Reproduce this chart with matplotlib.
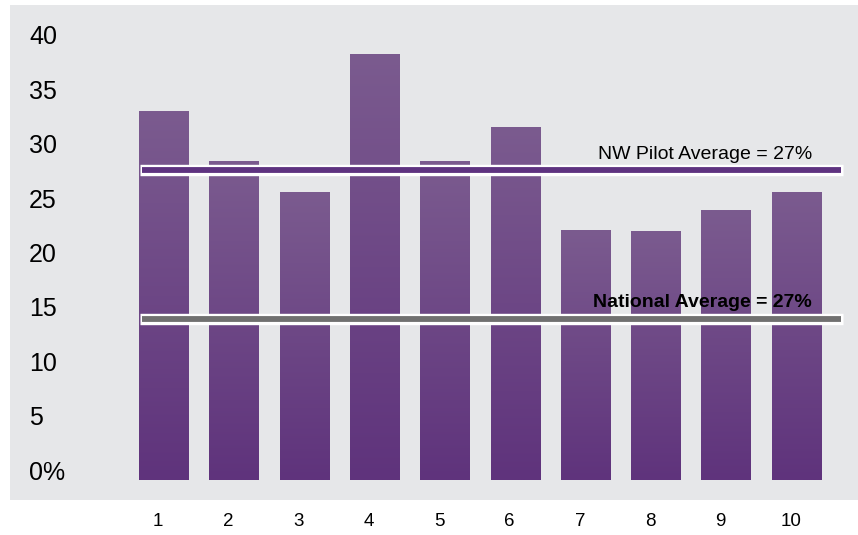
import numpy as np
import matplotlib
matplotlib.use("Agg")
import matplotlib.pyplot as plt
from matplotlib.colors import LinearSegmentedColormap
from matplotlib.patches import Rectangle
from matplotlib.transforms import ScaledTranslation

plt.rcParams['font.family'] = ['Liberation Sans', 'DejaVu Sans']

# data
groups = [1, 2, 3, 4, 5, 6, 7, 8, 9, 10]
values = [33.9, 29.3, 26.5, 39.2, 29.3, 32.5, 23.0, 22.9, 24.8, 26.5]
nw_avg = 28.5
national_avg = 14.8
nw_label = "NW Pilot Average = 27%"
national_label = "National Average = 27%"
yticks = [0, 5, 10, 15, 20, 25, 30, 35, 40]
ytick_labels = ['0%', '5', '10', '15', '20', '25', '30', '35', '40']

W, H = 858, 535
fig = plt.figure(figsize=(W / 100, H / 100), dpi=100)
fig.patch.set_facecolor('white')

# grey panel behind the plot
fig.patches.append(Rectangle((10 / W, 35 / H), 848 / W, 495 / H,
                             transform=fig.transFigure, facecolor='#e6e7e9',
                             edgecolor='none', zorder=0))

ax = fig.add_axes([93.7 / W, 55 / H, (858 - 93.7) / W, 475 / H])
ax.set_zorder(1)
ax.patch.set_alpha(0)
for s in ax.spines.values():
    s.set_visible(False)

# bars with vertical gradient
cmap = LinearSegmentedColormap.from_list('purp', ['#5f337c', '#7b5b8f'])
grad = np.linspace(0, 1, 256).reshape(-1, 1)
bars = ax.bar(groups, values, width=0.71, color='none', edgecolor='none')
for b in bars:
    x0 = b.get_x()
    x1 = x0 + b.get_width()
    h = b.get_height()
    im = ax.imshow(grad, extent=[x0, x1, 0, h], origin='lower', aspect='auto',
                   cmap=cmap, zorder=2)
    im.set_clip_path(b)
ax.set_xlim(0, (858 - 93.7) / 70.3)
ax.set_ylim(0, 475 / 10.875)

# average lines (white outline + coloured core)
lx0 = (140 - 93.7) / (858 - 93.7)
lx1 = (843 - 93.7) / (858 - 93.7)
for val, col in [(nw_avg, '#5e3380'), (national_avg, '#707070')]:
    ax.axhline(val, xmin=lx0, xmax=lx1, color='white', lw=8.2,
               solid_capstyle='butt', zorder=3)
    ax.axhline(val, xmin=lx0 + 2 / 764, xmax=lx1 - 2 / 764, color=col, lw=4.2,
               solid_capstyle='butt', zorder=4)

tx = (812 - 93.7) / 70.3
ax.annotate(nw_label, (tx, nw_avg), xytext=(0, 11), textcoords='offset points',
            ha='right', va='center', fontsize=14, color='black', zorder=5)
ax.annotate(national_label, (tx, national_avg), xytext=(0, 12),
            textcoords='offset points', ha='right', va='center', fontsize=14,
            fontweight='bold', color='black', zorder=5)

# y ticks: left aligned, shifted up a bit
ax.set_yticks(yticks)
ax.set_yticklabels(ytick_labels, fontsize=18, ha='left')
ax.tick_params(axis='y', length=0, pad=64.7 * 0.72)
for lab in ax.get_yticklabels():
    lab.set_transform(lab.get_transform() + ScaledTranslation(0, 0.10, fig.dpi_scale_trans))

ax.set_xticks(groups)
ax.set_xticklabels([str(g) for g in groups], fontsize=13.5)
ax.tick_params(axis='x', length=0, pad=24)
for lab in ax.get_xticklabels():
    lab.set_transform(lab.get_transform() + ScaledTranslation(-0.06, 0, fig.dpi_scale_trans))

fig.savefig('out.png', dpi=100)
